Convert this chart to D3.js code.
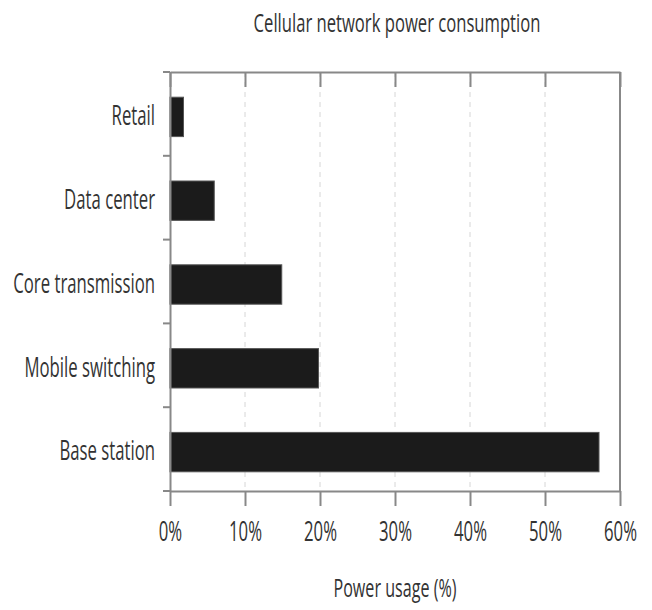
<!DOCTYPE html>
<html><head><meta charset="utf-8">
<script src="https://cdn.jsdelivr.net/npm/d3@7"></script>
<style>body{margin:0;background:#fff}svg{display:block}text{font-family:"Open Sans",sans-serif;fill:#333}</style>
</head><body><svg id="c" width="652" height="610"></svg>
<script>
const categories = ["Retail","Data center","Core transmission","Mobile switching","Base station"];
const values = [1.8, 5.9, 14.9, 19.8, 57.2];
const xTicks = [0,10,20,30,40,50,60];
const title = "Cellular network power consumption";
const xTitle = "Power usage (%)";

const svg = d3.select("#c");
const L=170,R=620,T=72,B=491;
const x = d3.scaleLinear().domain([0,60]).range([L,R]);
const y = d3.scaleBand().domain(categories).range([T,B]).padding(0);
function squeeze(sel, s){ sel.each(function(){ const x0=+(this.getAttribute("x")||0); this.setAttribute("transform",`translate(${x0*(1-s)},0) scale(${s},1)`); }); }

// grid
svg.append("g").selectAll("line").data(xTicks.slice(1,-1)).join("line")
  .attr("x1",d=>x(d)).attr("x2",d=>x(d)).attr("y1",T).attr("y2",B)
  .attr("stroke","#d6d6d6").attr("stroke-width",1).attr("stroke-dasharray","5,5");

// bars
const bh = y.bandwidth()*0.47;
svg.append("g").selectAll("rect").data(categories).join("rect")
  .attr("x",x(0)).attr("y",d=>y(d)+y.bandwidth()/2-bh/2+3)
  .attr("width",(d,i)=>x(values[i])-x(0)).attr("height",bh)
  .attr("fill","#1b1b1b").attr("stroke","#555").attr("stroke-width",1);

// bottom axis
const xb = svg.append("g").attr("transform",`translate(0,${B})`)
  .call(d3.axisBottom(x).tickValues(xTicks).tickSize(15).tickSizeOuter(0).tickFormat(d=>d+"%"));
xb.select(".domain").attr("stroke","#888").attr("stroke-width",2);
xb.selectAll(".tick line").attr("stroke","#888").attr("stroke-width",2);
xb.selectAll(".tick text").attr("font-size",27).attr("y",31).attr("dy","0.71em").attr("fill","#333").call(squeeze,0.62);

// top axis (inward ticks)
const xt = svg.append("g").attr("transform",`translate(0,${T})`)
  .call(d3.axisTop(x).tickValues(xTicks).tickSize(-15).tickSizeOuter(0).tickFormat(""));
xt.select(".domain").attr("stroke","#888").attr("stroke-width",2);
xt.selectAll(".tick line").attr("stroke","#888").attr("stroke-width",2);

// right border
svg.append("line").attr("x1",R).attr("x2",R).attr("y1",T).attr("y2",B).attr("stroke","#888").attr("stroke-width",2);

// left axis
const ya = svg.append("g").attr("transform",`translate(${L},0)`)
  .call(d3.axisLeft(y).tickSize(0).tickPadding(15));
ya.select(".domain").attr("stroke","#888").attr("stroke-width",2);
ya.selectAll(".tick text").attr("font-size",27).attr("dy","0.42em").attr("fill","#333").call(squeeze,0.62);
// boundary ticks
const bounds = categories.map(c=>y(c)).concat([B]);
svg.append("g").selectAll("line").data(bounds).join("line")
  .attr("x1",L-7).attr("x2",L).attr("y1",d=>d).attr("y2",d=>d)
  .attr("stroke","#888").attr("stroke-width",2);

// titles
svg.append("text").attr("x",397).attr("y",32).attr("text-anchor","middle").attr("font-size",26).text(title).call(squeeze,0.64);
svg.append("text").attr("x",395).attr("y",597).attr("text-anchor","middle").attr("font-size",26).text(xTitle).call(squeeze,0.62);
</script></body></html>
